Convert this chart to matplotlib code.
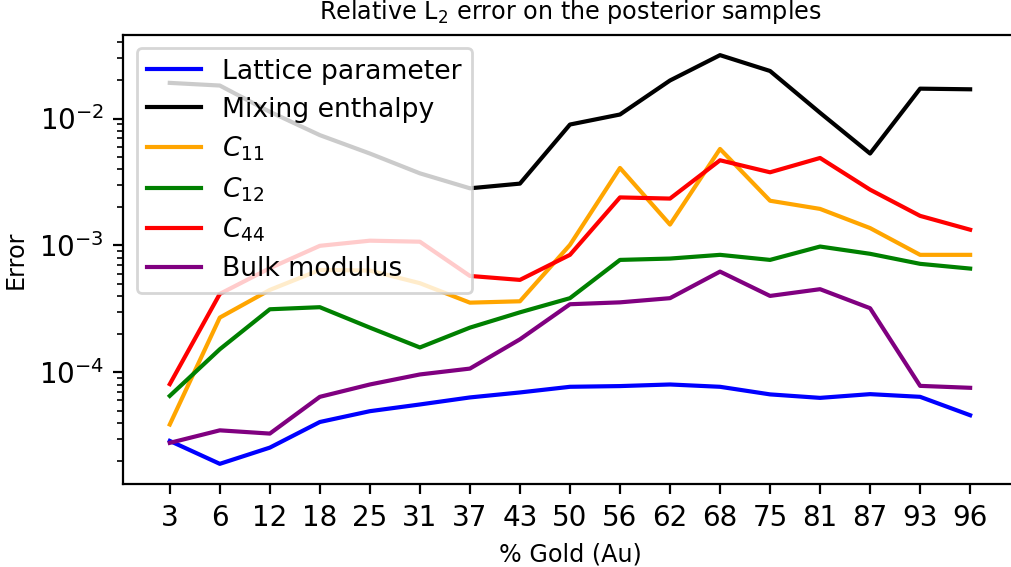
import matplotlib
matplotlib.use('Agg')
import matplotlib.pyplot as plt

gold = ['3', '6', '12', '18', '25', '31', '37', '43', '50', '56', '62', '68', '75', '81', '87', '93', '96']

lattice = [2.88e-5, 1.90e-5, 2.55e-5, 4.06e-5, 4.94e-5, 5.58e-5, 6.34e-5, 6.94e-5, 7.69e-5,
           7.79e-5, 8.02e-5, 7.69e-5, 6.70e-5, 6.29e-5, 6.73e-5, 6.41e-5, 4.59e-5]
mixing = [1.91e-2, 1.82e-2, 1.13e-2, 7.4e-3, 5.3e-3, 3.7e-3, 2.82e-3, 3.07e-3, 8.97e-3,
          1.076e-2, 1.995e-2, 3.16e-2, 2.37e-2, 1.11e-2, 5.3e-3, 1.72e-2, 1.70e-2]
c11 = [3.88e-5, 2.70e-4, 4.46e-4, 6.41e-4, 6.34e-4, 5.04e-4, 3.54e-4, 3.63e-4, 1.01e-3,
       4.08e-3, 1.46e-3, 5.76e-3, 2.25e-3, 1.94e-3, 1.37e-3, 8.43e-4, 8.43e-4]
c12 = [6.52e-5, 1.52e-4, 3.14e-4, 3.26e-4, 2.25e-4, 1.57e-4, 2.25e-4, 2.97e-4, 3.84e-4,
       7.69e-4, 7.88e-4, 8.43e-4, 7.69e-4, 9.80e-4, 8.59e-4, 7.16e-4, 6.57e-4]
c44 = [8.07e-5, 4.15e-4, 6.62e-4, 9.93e-4, 1.09e-3, 1.07e-3, 5.75e-4, 5.35e-4, 8.43e-4,
       2.39e-3, 2.34e-3, 4.69e-3, 3.77e-3, 4.89e-3, 2.75e-3, 1.71e-3, 1.33e-3]
bulk = [2.78e-5, 3.49e-5, 3.29e-5, 6.41e-5, 8.02e-5, 9.62e-5, 1.07e-4, 1.82e-4, 3.44e-4,
        3.56e-4, 3.84e-4, 6.22e-4, 4.00e-4, 4.52e-4, 3.20e-4, 7.82e-5, 7.55e-5]

x = list(range(len(gold)))

fig = plt.figure(figsize=(5.06, 2.835), dpi=200)
ax = fig.add_axes([0.1218, 0.1459, 0.8828, 0.7929])

ax.plot(x, lattice, color='blue', label='Lattice parameter')
ax.plot(x, mixing, color='black', label='Mixing enthalpy')
ax.plot(x, c11, color='orange', label='$C_{11}$')
ax.plot(x, c12, color='green', label='$C_{12}$')
ax.plot(x, c44, color='red', label='$C_{44}$')
ax.plot(x, bulk, color='purple', label='Bulk modulus')

ax.set_yscale('log')
ax.set_xticks(x)
ax.set_xticklabels(gold)
ax.set_xlim(-0.93, 16.93)
ax.tick_params(labelsize=10)
ax.set_xlabel('% Gold (Au)', fontsize=8.6)
ax.set_ylabel('Error', fontsize=8.6)
ax.set_title('Relative L$_2$ error on the posterior samples', fontsize=8.6, pad=5.5)
ax.legend(loc='upper left', fontsize=9.6, labelspacing=0.45)

plt.savefig('out.png', dpi=200)
